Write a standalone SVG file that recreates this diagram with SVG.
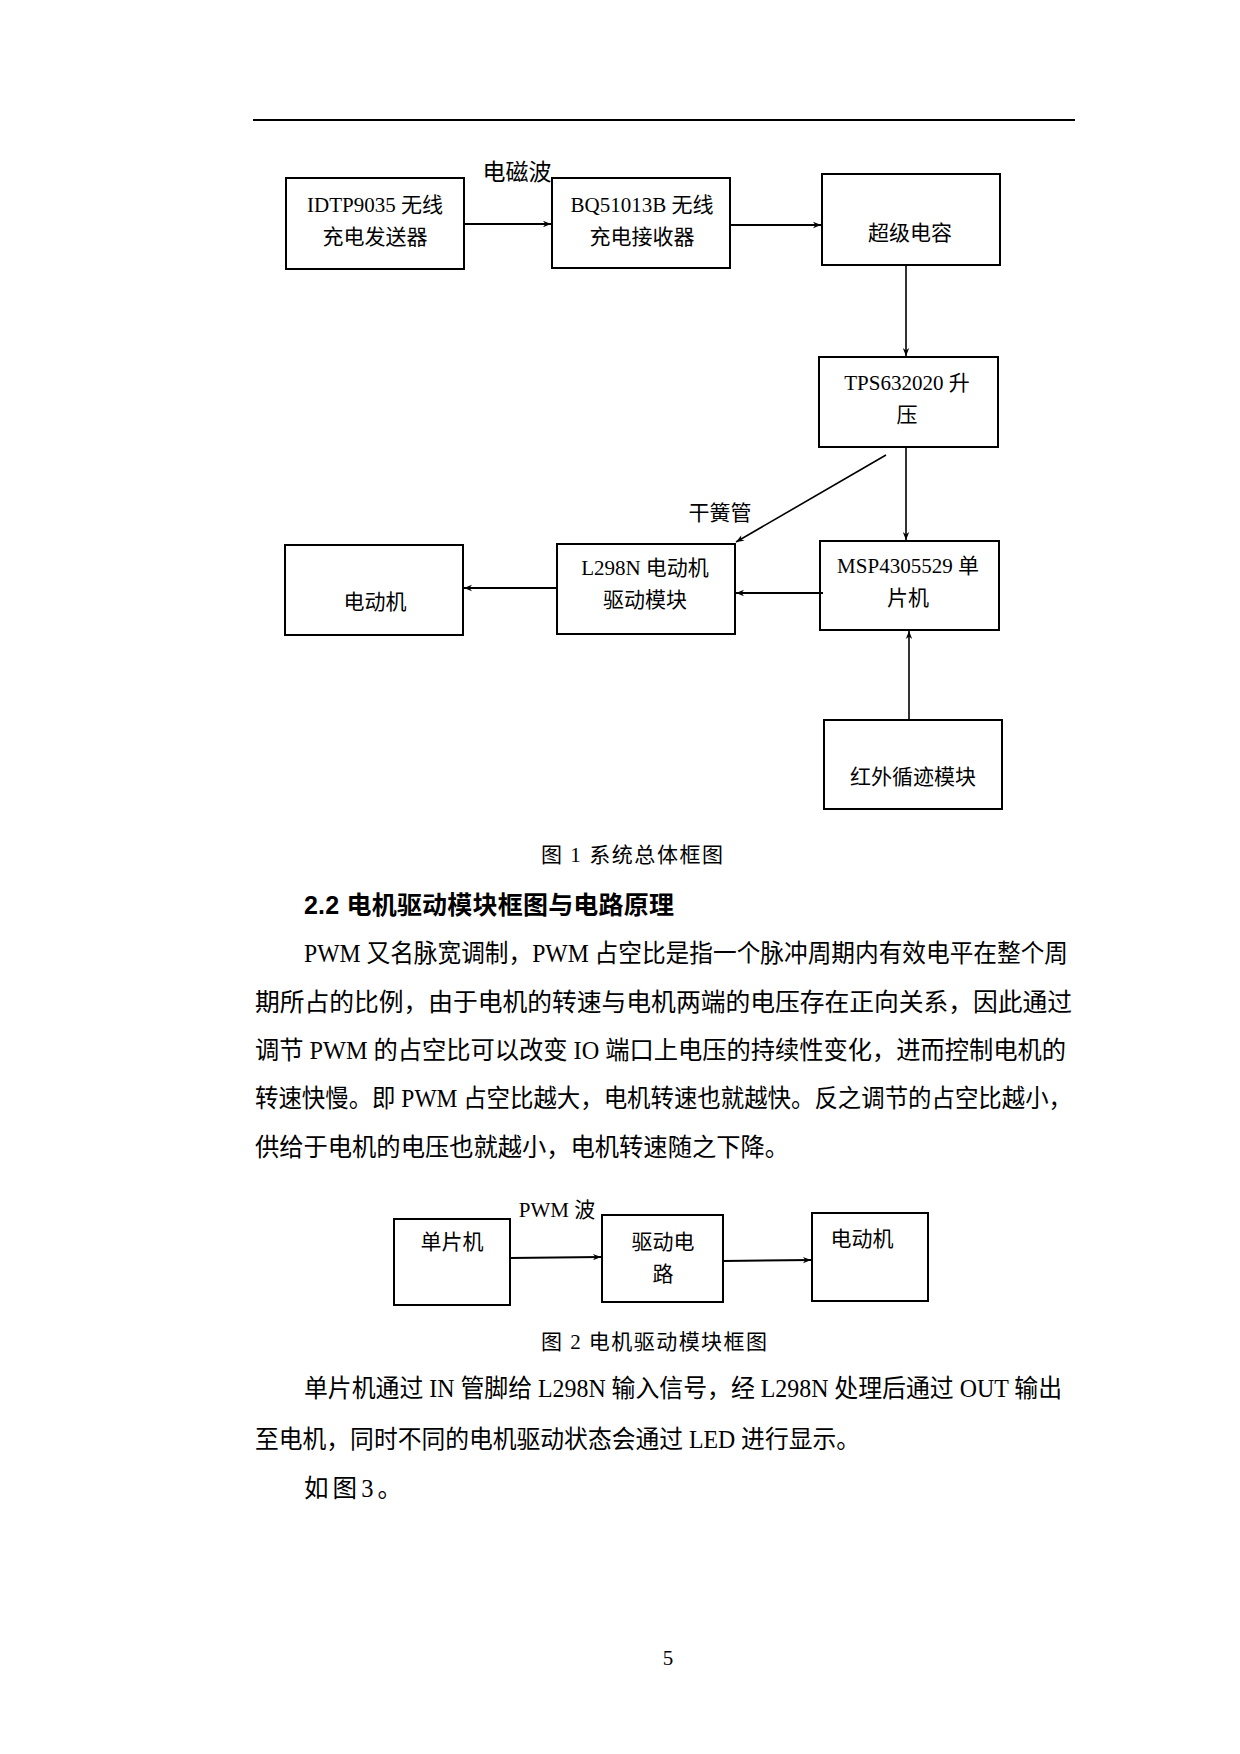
<svg xmlns="http://www.w3.org/2000/svg" width="1240" height="1754" viewBox="0 0 1240 1754">
<style>
.bg{fill:#fff}
.box{fill:#fff;stroke:#000;stroke-width:2}
.lbl{font-family:"Liberation Serif","Noto Sans CJK SC",serif;font-size:21px;fill:#000;text-anchor:middle;dominant-baseline:central}
.body{font-family:"Liberation Serif","Noto Sans CJK SC",serif;font-size:24.5px;fill:#000;dominant-baseline:central}
.cap{font-family:"Liberation Serif","Noto Sans CJK SC",serif;font-size:21px;fill:#000;dominant-baseline:central}
.head{font-family:"Liberation Sans","Noto Sans CJK SC",sans-serif;font-size:25px;font-weight:bold;fill:#000;dominant-baseline:central}
.conn{stroke:#000;stroke-width:1.6;fill:none;marker-end:url(#ah)}
.thick{stroke-width:2}
</style>
<defs>
<marker id="ah" viewBox="0 0 10 10" refX="10" refY="5" markerWidth="9" markerHeight="8" markerUnits="userSpaceOnUse" orient="auto">
<path d="M0,1 L10,5 L0,9 L3,5 z" fill="#000"/>
</marker>
</defs>
<rect class="bg" x="0" y="0" width="1240" height="1754"/>
<line x1="253" y1="120" x2="1075" y2="120" stroke="#000" stroke-width="2"/>

<g id="fig1-nodes">
<g id="n-idtp"><rect class="box" x="286" y="178" width="178" height="91"/><text class="lbl" x="375" y="205">IDTP9035 无线</text><text class="lbl" x="375" y="237">充电发送器</text></g>
<g id="n-bq"><rect class="box" x="552" y="178" width="178" height="90"/><text class="lbl" x="642" y="205">BQ51013B 无线</text><text class="lbl" x="642" y="237">充电接收器</text></g>
<g id="n-cap"><rect class="box" x="822" y="174" width="178" height="91"/><text class="lbl" x="910" y="233">超级电容</text></g>
<g id="n-tps"><rect class="box" x="819" y="357" width="179" height="90"/><text class="lbl" x="907" y="383">TPS632020 升</text><text class="lbl" x="907" y="415">压</text></g>
<g id="n-msp"><rect class="box" x="820" y="541" width="179" height="89"/><text class="lbl" x="908" y="566">MSP4305529 单</text><text class="lbl" x="908" y="598">片机</text></g>
<g id="n-l298"><rect class="box" x="557" y="544" width="178" height="90"/><text class="lbl" x="645" y="568">L298N 电动机</text><text class="lbl" x="645" y="600">驱动模块</text></g>
<g id="n-motor"><rect class="box" x="285" y="545" width="178" height="90"/><text class="lbl" x="375" y="602">电动机</text></g>
<g id="n-ir"><rect class="box" x="824" y="720" width="178" height="89"/><text class="lbl" x="913" y="777">红外循迹模块</text></g>
</g>

<g id="fig1-connectors">
<line class="conn thick" x1="464" y1="224" x2="551" y2="224"/>
<line class="conn thick" x1="730" y1="225" x2="821" y2="225"/>
<line class="conn" x1="906" y1="265" x2="906" y2="356"/>
<line class="conn" x1="906" y1="447" x2="906" y2="540"/>
<line class="conn" x1="886" y1="455" x2="736" y2="542"/>
<line class="conn thick" x1="823" y1="593" x2="736" y2="593"/>
<line class="conn thick" x1="557" y1="588" x2="464" y2="588"/>
<line class="conn" x1="909" y1="720" x2="909" y2="631"/>
<text class="lbl" x="517" y="172" style="font-size:23px">电磁波</text>
<text class="lbl" x="720" y="513">干簧管</text>
</g>

<text class="cap" x="541" y="855" textLength="182" lengthAdjust="spacing">图 1 系统总体框图</text>
<text class="head" x="304" y="905" textLength="370" lengthAdjust="spacing">2.2 电机驱动模块框图与电路原理</text>

<text class="body" x="304" y="953" textLength="764" lengthAdjust="spacingAndGlyphs">PWM 又名脉宽调制，PWM 占空比是指一个脉冲周期内有效电平在整个周</text>
<text class="body" x="255" y="1002" textLength="817" lengthAdjust="spacingAndGlyphs">期所占的比例，由于电机的转速与电机两端的电压存在正向关系，因此通过</text>
<text class="body" x="255" y="1050" textLength="811" lengthAdjust="spacingAndGlyphs">调节 PWM 的占空比可以改变 IO 端口上电压的持续性变化，进而控制电机的</text>
<text class="body" x="255" y="1098" textLength="817" lengthAdjust="spacingAndGlyphs">转速快慢。即 PWM 占空比越大，电机转速也就越快。反之调节的占空比越小，</text>
<text class="body" x="255" y="1147" textLength="534" lengthAdjust="spacingAndGlyphs">供给于电机的电压也就越小，电机转速随之下降。</text>

<g id="fig2-nodes">
<g id="m-mcu"><rect class="box" x="394" y="1219" width="116" height="86"/><text class="lbl" x="452" y="1242">单片机</text></g>
<g id="m-drv"><rect class="box" x="602" y="1215" width="121" height="87"/><text class="lbl" x="663" y="1242">驱动电</text><text class="lbl" x="663" y="1274">路</text></g>
<g id="m-motor"><rect class="box" x="812" y="1213" width="116" height="88"/><text class="lbl" x="862" y="1239">电动机</text></g>
</g>
<g id="fig2-connectors">
<line class="conn thick" x1="510" y1="1258" x2="601" y2="1257"/>
<line class="conn thick" x1="723" y1="1261" x2="811" y2="1260"/>
<text class="lbl" x="557" y="1210">PWM 波</text>
</g>

<text class="cap" x="541" y="1342" textLength="226" lengthAdjust="spacing">图 2 电机驱动模块框图</text>

<text class="body" x="304" y="1388" textLength="758" lengthAdjust="spacingAndGlyphs">单片机通过 IN 管脚给 L298N 输入信号，经 L298N 处理后通过 OUT 输出</text>
<text class="body" x="255" y="1439" textLength="605" lengthAdjust="spacingAndGlyphs">至电机，同时不同的电机驱动状态会通过 LED 进行显示。</text>
<text class="body" x="304" y="1488" textLength="98" lengthAdjust="spacing">如图3。</text>

<text class="cap" x="668" y="1658" text-anchor="middle">5</text>
</svg>
